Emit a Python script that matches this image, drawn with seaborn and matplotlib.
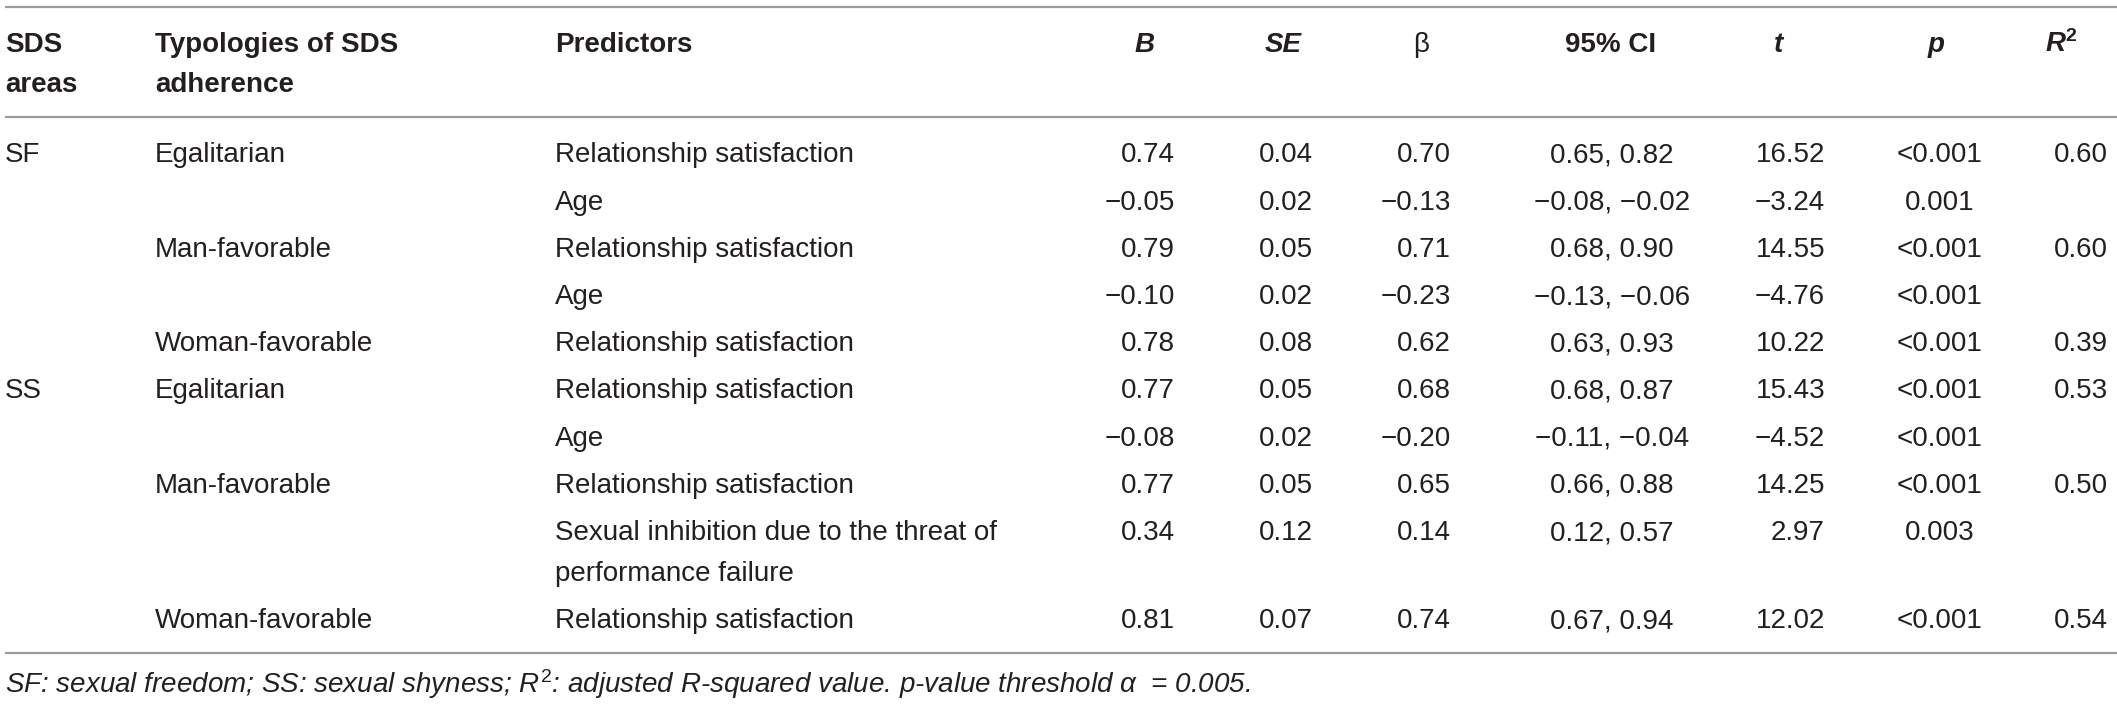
import matplotlib
matplotlib.use("Agg")
import matplotlib.pyplot as plt
import seaborn as sns

# table content
areas = ["SF", "", "", "", "", "SS", "", "", "", ""]
typologies = ["Egalitarian", "", "Man-favorable", "", "Woman-favorable",
              "Egalitarian", "", "Man-favorable", "", "Woman-favorable"]
predictors = ["Relationship satisfaction", "Age", "Relationship satisfaction", "Age",
              "Relationship satisfaction", "Relationship satisfaction", "Age",
              "Relationship satisfaction",
              "Sexual inhibition due to the threat of\nperformance failure",
              "Relationship satisfaction"]
B = [0.74, -0.05, 0.79, -0.10, 0.78, 0.77, -0.08, 0.77, 0.34, 0.81]
SE = [0.04, 0.02, 0.05, 0.02, 0.08, 0.05, 0.02, 0.05, 0.12, 0.07]
beta = [0.70, -0.13, 0.71, -0.23, 0.62, 0.68, -0.20, 0.65, 0.14, 0.74]
ci_low = [0.65, -0.08, 0.68, -0.13, 0.63, 0.68, -0.11, 0.66, 0.12, 0.67]
ci_high = [0.82, -0.02, 0.90, -0.06, 0.93, 0.87, -0.04, 0.88, 0.57, 0.94]
t_vals = [16.52, -3.24, 14.55, -4.76, 10.22, 15.43, -4.52, 14.25, 2.97, 12.02]
p_vals = ["<0.001", "0.001", "<0.001", "<0.001", "<0.001", "<0.001", "<0.001",
          "<0.001", "0.003", "<0.001"]
r2 = [0.60, None, 0.60, None, 0.39, 0.53, None, 0.50, None, 0.54]

footnote = (r"SF: sexual freedom; SS: sexual shyness; $\mathit{R}^{\mathrm{2}}$: "
            "adjusted R-squared value. p-value threshold \u03b1  = 0.005.")


def fmt(v):
    if v is None:
        return ""
    return "{:.2f}".format(v).replace("-", "\u2212")


sns.set_theme(style="white")
plt.rcParams['font.family'] = ['Liberation Sans', 'DejaVu Sans']
plt.rcParams['mathtext.fontset'] = 'custom'
plt.rcParams['mathtext.rm'] = 'Liberation Sans'
plt.rcParams['mathtext.it'] = 'Liberation Sans:italic'
plt.rcParams['mathtext.bf'] = 'Liberation Sans:bold'
plt.rcParams['mathtext.bfit'] = 'Liberation Sans:italic:bold'

W, H = 2117, 707
fig = plt.figure(figsize=(W / 100, H / 100), dpi=100)
ax = fig.add_axes([0, 0, 1, 1])
ax.set_xlim(0, W)
ax.set_ylim(H, 0)
ax.axis('off')

fs = 20
col = '#231f20'
rule = '#9b9b9b'

# rules
for y in (7, 117, 653):
    ax.hlines(y, 5, W, color=rule, lw=1.6)

# header
hb1, hb2 = 52, 92
hdr = dict(fontsize=fs, color=col, weight='bold', va='baseline')
ax.text(5, hb1, "SDS", ha='left', **hdr)
ax.text(5, hb2, "areas", ha='left', **hdr)
ax.text(155, hb1, "Typologies of SDS", ha='left', **hdr)
ax.text(155, hb2, "adherence", ha='left', **hdr)
ax.text(555, hb1, "Predictors", ha='left', **hdr)
ax.text(1145, hb1, "B", ha='center', style='italic', **hdr)
ax.text(1283, hb1, "SE", ha='center', style='italic', **hdr)
ax.text(1421, hb1, "\u03b2", ha='center', fontsize=fs, color=col, va='baseline')
ax.text(1611, hb1, "95% CI", ha='center', **hdr)
ax.text(1778, hb1, "t", ha='center', style='italic', **hdr)
ax.text(1936, hb1, "p", ha='center', style='italic', **hdr)
ax.text(2061, hb1, r"$\mathbfit{R}^{\mathbf{2}}$", ha='center', **hdr)

# body
first, row_h, wrap_h = 162.5, 47.2, 41
body = dict(fontsize=fs, color=col, va='baseline')
extra = 0
for i in range(len(predictors)):
    y = first + i * row_h + extra
    ax.text(5, y, areas[i], ha='left', **body)
    ax.text(155, y, typologies[i], ha='left', **body)
    lines = predictors[i].split("\n")
    for k, ln in enumerate(lines):
        ax.text(555, y + k * wrap_h, ln, ha='left', **body)
    ax.text(1175, y, fmt(B[i]), ha='right', **body)
    ax.text(1313, y, fmt(SE[i]), ha='right', **body)
    ax.text(1451, y, fmt(beta[i]), ha='right', **body)
    ax.text(1612, y, fmt(ci_low[i]) + ", " + fmt(ci_high[i]), ha='center', **body)
    ax.text(1825, y, fmt(t_vals[i]), ha='right', **body)
    ax.text(1940, y, p_vals[i], ha='center', **body)
    ax.text(2108, y, fmt(r2[i]), ha='right', **body)
    extra += (len(lines) - 1) * wrap_h

ax.text(5, 693, footnote, ha='left', va='baseline', fontsize=fs, color=col, style='italic')

fig.savefig("out.png", dpi=100)
